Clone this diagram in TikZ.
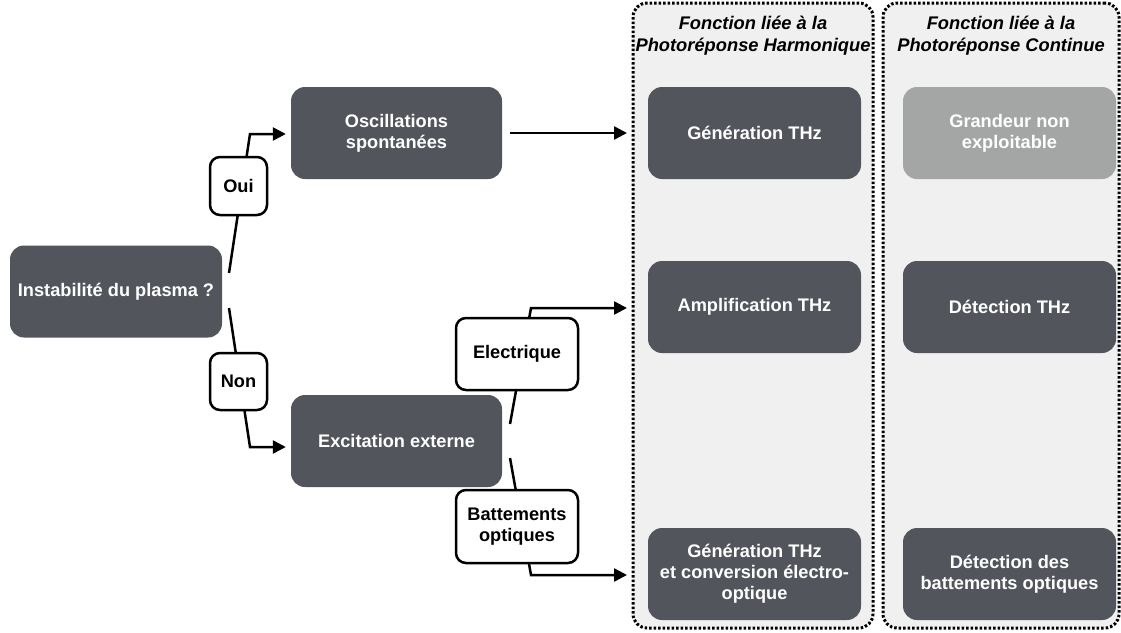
\documentclass[tikz,border=0pt]{standalone}
\usepackage{fontspec}
\setmainfont{Liberation Sans}
\usetikzlibrary{arrows.meta}
\definecolor{darkbox}{HTML}{52565C}
\definecolor{litebox}{HTML}{A4A6A5}
\definecolor{panelfill}{HTML}{F0F0F0}
\begin{document}
\begin{tikzpicture}[x=1pt,y=-1pt,
  txt/.style={font=\fontsize{18.2}{21}\selectfont\bfseries, align=center},
  box/.style={txt, rounded corners=14pt, fill=darkbox, text=white, minimum width=212pt, minimum height=92pt, inner sep=0pt},
  greybox/.style={box, fill=litebox},
  lbl/.style={txt, rounded corners=10pt, draw=black, line width=2.5pt, fill=white, inner sep=0pt},
  panelbox/.style={rounded corners=14pt, fill=panelfill, draw=black, line width=3pt, dash pattern=on 2.5pt off 2pt, inner sep=0pt},
  head/.style={font=\fontsize{18.3}{22}\selectfont\bfseries\itshape, align=center},
  conn/.style={line width=2.5pt, -{Triangle[length=13pt,width=13pt]}}
]
\useasboundingbox (0,0) rectangle (1121,632);
% panels
\node[panelbox, minimum width=240pt, minimum height=625pt] (p1) at (753,315.5) {};
\node[panelbox, minimum width=236pt, minimum height=625pt] (p2) at (1001,315.5) {};
\node[head] (h1) at (753,36) {Fonction liée à la\\Photoréponse Harmonique};
\node[head] (h2) at (1001,36) {Fonction liée à la\\Photoréponse Continue};
% main boxes
\node[box] (inst) at (116,291.5) {Instabilité du plasma ?};
\node[box, minimum width=211pt] (osc) at (396.5,133) {Oscillations\\spontanées};
\node[box, minimum width=211pt] (exc) at (396.5,441) {Excitation externe};
\node[box, minimum width=213pt] (gen1) at (754.5,133) {Génération THz};
\node[box, minimum width=213pt] (amp) at (754.5,307) {Amplification THz};
\node[box, minimum width=213pt] (gen2) at (754.5,574) {Génération THz\\et conversion électro-\\optique};
\node[greybox, minimum width=213pt] (gnd) at (1009.5,133) {Grandeur non\\exploitable};
\node[box, minimum width=213pt] (det) at (1009.5,307) {Détection THz};
\node[box, minimum width=213pt] (detb) at (1009.5,574) {Détection des\\battements optiques};
% connector points
\coordinate (a1) at (229,273);
\coordinate (a2) at (250,134);
\coordinate (b1) at (229,308);
\coordinate (b2) at (250,447);
\coordinate (c1) at (510,133);
\coordinate (c2) at (627,133);
\coordinate (d1) at (510,424);
\coordinate (d2) at (531,308);
\coordinate (d3) at (627,308);
\coordinate (e1) at (510,458);
\coordinate (e2) at (531,575);
\coordinate (e3) at (627,575);
% connectors
\draw[conn] (a1) -- (a2) -- ([xshift=-5pt]osc.west |- a2);
\draw[conn] (b1) -- (b2) -- ([xshift=-5pt]exc.west |- b2);
\draw[conn] (c1) -- (c2);
\draw[conn] (d1) -- (d2) -- (d3);
\draw[conn] (e1) -- (e2) -- (e3);
% edge labels
\node[lbl, minimum width=57pt, minimum height=58pt] (oui) at (238.5,186) {Oui};
\node[lbl, minimum width=57pt, minimum height=57pt] (non) at (238.5,381.5) {Non};
\node[lbl, minimum width=122pt, minimum height=72pt] (elec) at (517,354) {Electrique};
\node[lbl, minimum width=122pt, minimum height=73pt] (batt) at (517,526.5) {Battements\\optiques};
\end{tikzpicture}
\end{document}
